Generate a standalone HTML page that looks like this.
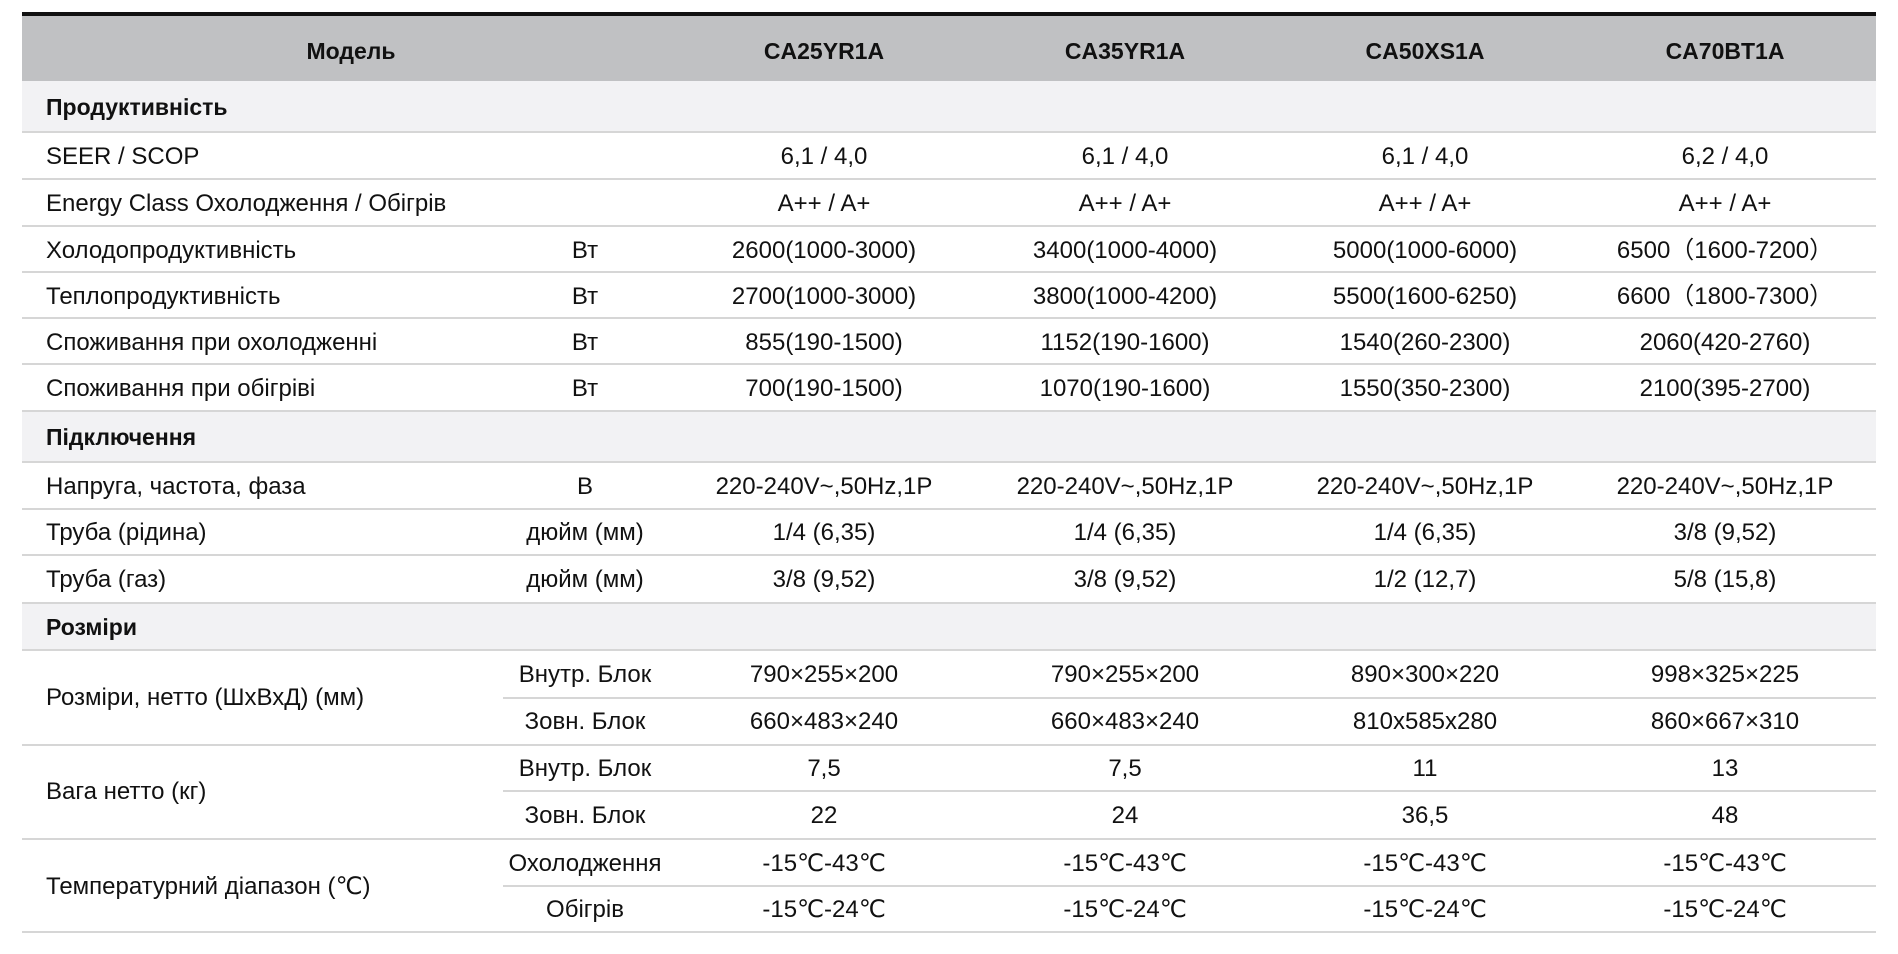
<!DOCTYPE html>
<html><head><meta charset="utf-8"><style>
body{margin:0;width:1898px;height:954px;background:#fff;position:relative;overflow:hidden;font-family:"Liberation Sans","DejaVu Sans",sans-serif;color:#111;}
.t{position:absolute;font-size:24px;white-space:nowrap;line-height:1;}
.c{transform:translateX(-50%);}
.b{font-weight:bold;font-size:23px;}
.l{position:absolute;height:2px;background:#d6d6d6;right:22px;}
.bg{position:absolute;left:22px;right:22px;}
</style></head><body>
<div class="bg" style="top:12px;height:4px;background:#111"></div>
<div class="bg" style="top:16px;height:65px;background:#c0c1c3"></div>
<div class="bg" style="top:81px;height:50px;background:#f2f2f4"></div>
<div class="bg" style="top:410px;height:51px;background:#f2f2f4"></div>
<div class="bg" style="top:602px;height:47px;background:#f2f2f4"></div>
<div id="lines"></div>
<div id="txt"></div>
<script>
var L=document.getElementById('lines'),T=document.getElementById('txt');
function line(y,x){var d=document.createElement('div');d.className='l';d.style.top=y+'px';d.style.left=(x||22)+'px';L.appendChild(d);}
[131,178,225,271,317,363,410,461,508,554,602,649,744,838,931].forEach(function(y){line(y)});
[697,790,885].forEach(function(y){line(y,503)});
function tx(s,x,y,cls){var d=document.createElement('div');d.className='t '+(cls||'');d.style.left=x+'px';d.style.top=(y-10)+'px';d.textContent=s;T.appendChild(d);}
var cx=[824,1125,1425,1725];
tx('Модель',351,50,'c b');
['CA25YR1A','CA35YR1A','CA50XS1A','CA70BT1A'].forEach(function(s,i){tx(s,cx[i],50,'c b')});
tx('Продуктивність',46,106,'b');tx('Підключення',46,436,'b');tx('Розміри',46,626,'b');
var rows=[
[155,'SEER / SCOP','',['6,1 / 4,0','6,1 / 4,0','6,1 / 4,0','6,2 / 4,0']],
[202,'Energy Class Охолодження / Обігрів','',['A++ / A+','A++ / A+','A++ / A+','A++ / A+']],
[249,'Холодопродуктивність','Вт',['2600(1000-3000)','3400(1000-4000)','5000(1000-6000)','6500（1600-7200）']],
[295,'Теплопродуктивність','Вт',['2700(1000-3000)','3800(1000-4200)','5500(1600-6250)','6600（1800-7300）']],
[341,'Споживання при охолодженні','Вт',['855(190-1500)','1152(190-1600)','1540(260-2300)','2060(420-2760)']],
[387,'Споживання при обігріві','Вт',['700(190-1500)','1070(190-1600)','1550(350-2300)','2100(395-2700)']],
[485,'Напруга, частота, фаза','В',['220-240V~,50Hz,1P','220-240V~,50Hz,1P','220-240V~,50Hz,1P','220-240V~,50Hz,1P']],
[531,'Труба (рідина)','дюйм (мм)',['1/4 (6,35)','1/4 (6,35)','1/4 (6,35)','3/8 (9,52)']],
[578,'Труба (газ)','дюйм (мм)',['3/8 (9,52)','3/8 (9,52)','1/2 (12,7)','5/8 (15,8)']],
[673,'','Внутр. Блок',['790×255×200','790×255×200','890×300×220','998×325×225']],
[720,'','Зовн. Блок',['660×483×240','660×483×240','810x585x280','860×667×310']],
[767,'','Внутр. Блок',['7,5','7,5','11','13']],
[814,'','Зовн. Блок',['22','24','36,5','48']],
[862,'','Охолодження',['-15℃-43℃','-15℃-43℃','-15℃-43℃','-15℃-43℃']],
[908,'','Обігрів',['-15℃-24℃','-15℃-24℃','-15℃-24℃','-15℃-24℃']]];
rows.forEach(function(r){if(r[1])tx(r[1],46,r[0]);if(r[2])tx(r[2],585,r[0],'c');r[3].forEach(function(s,i){tx(s,cx[i],r[0],'c')});});
tx('Розміри, нетто (ШхВхД) (мм)',46,696);tx('Вага нетто (кг)',46,790);tx('Температурний діапазон (℃)',46,885);
</script>
</body></html>
